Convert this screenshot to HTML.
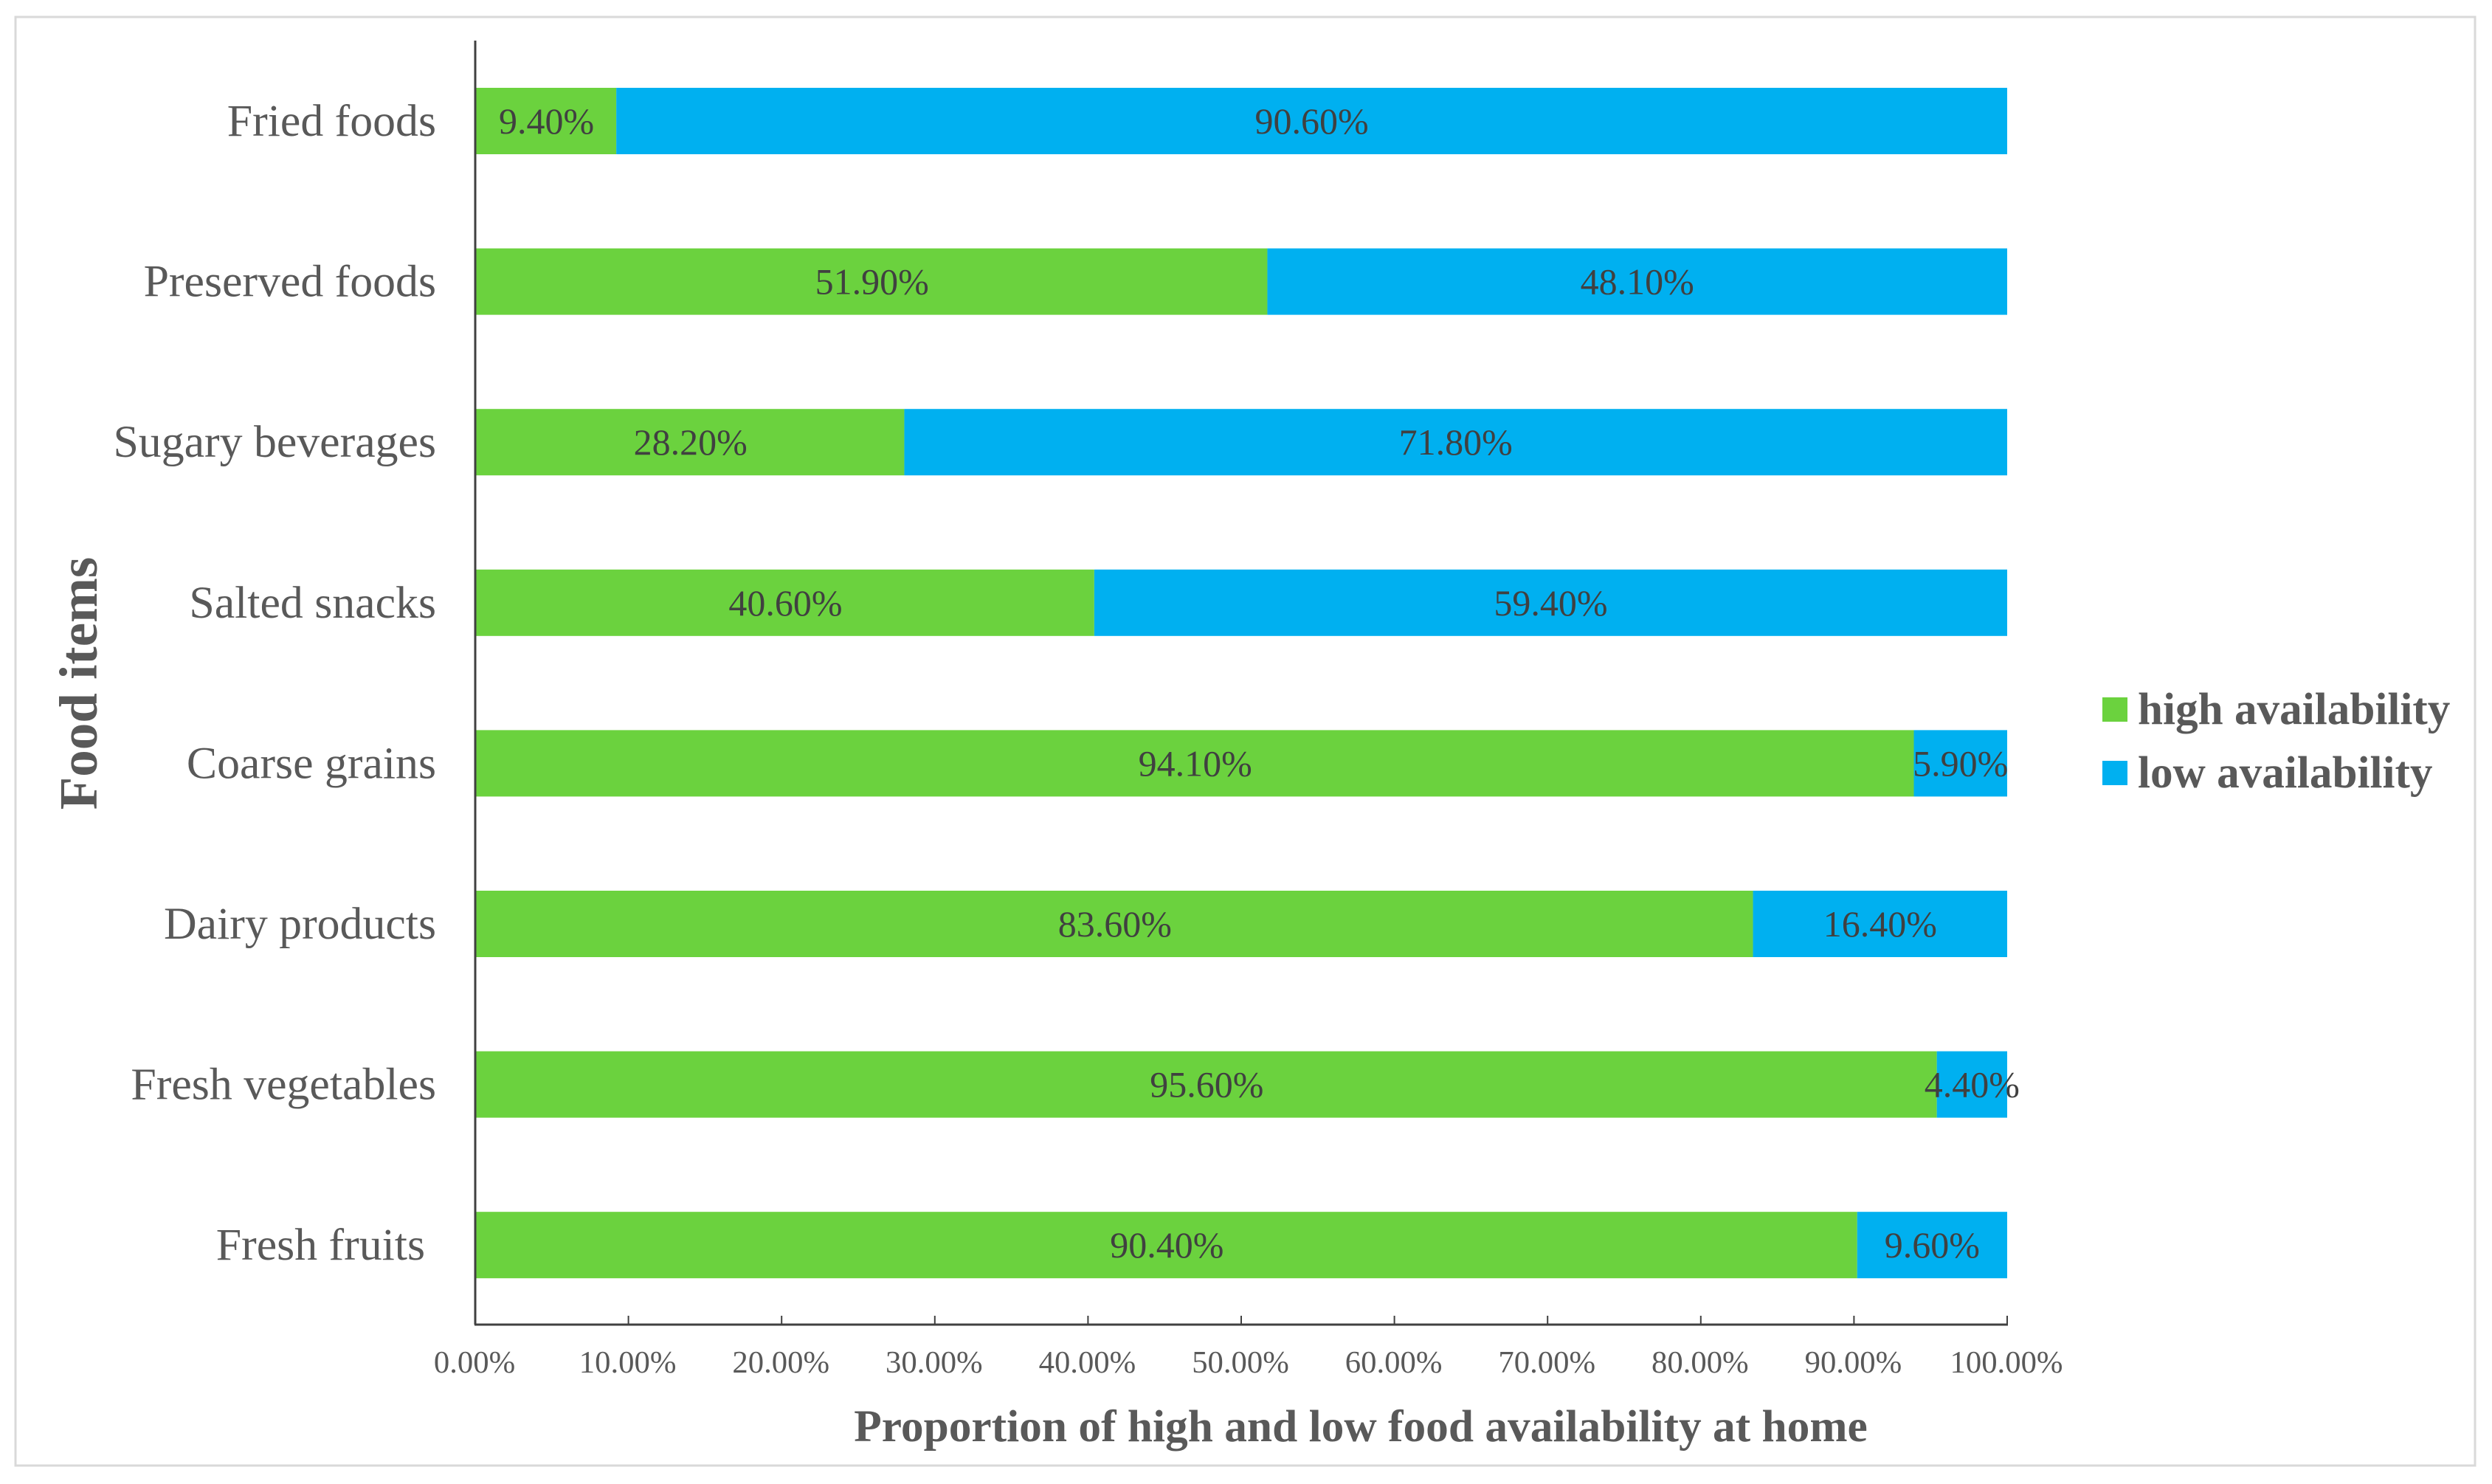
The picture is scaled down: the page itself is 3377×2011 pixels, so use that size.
<!DOCTYPE html>
<html>
<head>
<meta charset="utf-8">
<title>Food availability chart</title>
<style>
html,body{margin:0;padding:0;background:#fff;width:3377px;height:2011px;overflow:hidden}
svg{display:block}
text{font-family:"Liberation Serif",serif}
</style>
</head>
<body>
<svg id="chart" xmlns="http://www.w3.org/2000/svg" width="3377" height="2011" viewBox="0 0 3377 2011">
<rect x="21" y="23" width="3333" height="1963" fill="#fff" stroke="#d9d9d9" stroke-width="3"/>
<g id="bars"></g>
<g id="axes"></g>
<g id="labels"></g>
<text transform="translate(131,926) rotate(-90)" text-anchor="middle" font-size="73" font-weight="bold" fill="#595959">Food items</text>
<text x="1844" y="1953" text-anchor="middle" font-size="61.4" font-weight="bold" fill="#595959">Proportion of high and low food availability at home</text>
<g>
<rect x="2849" y="945" width="34" height="33" fill="#6BD23E"/>
<text x="2897" y="981" font-size="61.2" font-weight="bold" fill="#595959">high availability</text>
<rect x="2849" y="1031" width="34" height="33" fill="#00B0F0"/>
<text x="2897" y="1067" font-size="61.2" font-weight="bold" fill="#595959">low availability</text>
</g>
</svg>
<script>
const categories = ["Fried foods", "Preserved foods", "Sugary beverages", "Salted snacks", "Coarse grains", "Dairy products", "Fresh vegetables", "Fresh fruits"];
const highValues = [9.4, 51.9, 28.2, 40.6, 94.1, 83.6, 95.6, 90.4];
const lowValues = [90.6, 48.1, 71.8, 59.4, 5.9, 16.4, 4.4, 9.6];
const tickValues = [0, 10, 20, 30, 40, 50, 60, 70, 80, 90, 100];

const NS = "http://www.w3.org/2000/svg";
const plotLeft = 644, plotRight = 2720, axisTop = 55, axisBottom = 1795;
const firstBarTop = 119, barPitch = 217.6, barHeight = 90;
const seamShift = -4;
const GREEN = "#6BD23E", BLUE = "#00B0F0";

function xScale(v) { return plotLeft + (v / 100) * (plotRight - plotLeft); }
function yScale(i) { return firstBarTop + i * barPitch; }
function make(tag, attrs, parent, content) {
  const el = document.createElementNS(NS, tag);
  for (const k in attrs) el.setAttribute(k, attrs[k]);
  if (content !== undefined) el.textContent = content;
  parent.appendChild(el);
  return el;
}

const barsG = document.getElementById("bars");
const axesG = document.getElementById("axes");
const labelsG = document.getElementById("labels");

categories.forEach(function (cat, i) {
  const y = yScale(i);
  const seam = xScale(highValues[i]) + seamShift;
  const end = seam + (lowValues[i] / 100) * (plotRight - plotLeft) - seamShift;

  const hi = make("rect", { x: plotLeft, y: y, width: seam - plotLeft, height: barHeight, fill: GREEN }, barsG);
  
  

  const lo = make("rect", { x: seam, y: y, width: end - seam, height: barHeight, fill: BLUE }, barsG);
  
  

  const baseline = y + 62;
  const hiLabel = make("text", { x: (plotLeft + seam) / 2 + 1, y: baseline, "text-anchor": "middle", "font-size": 50, fill: "#404040" }, labelsG, highValues[i].toFixed(2) + "%");
  
  

  const loLabel = make("text", { x: (seam + end) / 2, y: baseline, "text-anchor": "middle", "font-size": 50, fill: "#404040" }, labelsG, lowValues[i].toFixed(2) + "%");
  
  

  // The last category carries a trailing space in the source, so it sits further left.
  const catRight = i === categories.length - 1 ? 576 : 591;
  const catLabel = make("text", { x: catRight, y: y + 65, "text-anchor": "end", "font-size": 61.8, fill: "#595959" }, axesG, cat);
  
  
});

const yLine = make("line", { x1: plotLeft, y1: axisTop, x2: plotLeft, y2: axisBottom, stroke: "#404040", "stroke-width": 3 }, axesG);



const xLine = make("line", { x1: plotLeft - 1, y1: axisBottom, x2: plotRight + 1, y2: axisBottom, stroke: "#404040", "stroke-width": 3 }, axesG);



tickValues.forEach(function (t) {
  const x = xScale(t);
  if (t > 0) {
    const tick = make("line", { x1: x, y1: axisBottom - 12, x2: x, y2: axisBottom, stroke: "#404040", "stroke-width": 2 }, axesG);
    
    
  }
  const tl = make("text", { x: x - 1, y: 1860, "text-anchor": "middle", "font-size": 42.7, fill: "#595959" }, axesG, t.toFixed(2) + "%");
  
  
});
</script>
</body>
</html>
